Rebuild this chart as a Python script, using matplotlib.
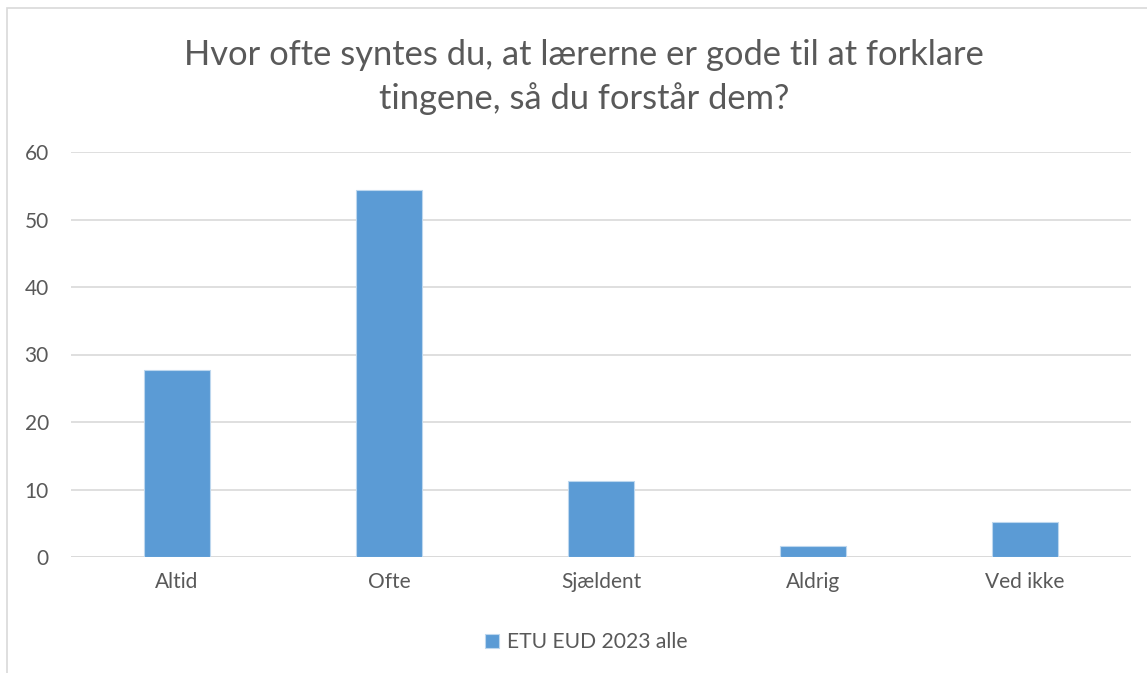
import matplotlib
matplotlib.use("Agg")
import matplotlib.pyplot as plt
from matplotlib.patches import Rectangle

categories = ["Altid", "Ofte", "Sjældent", "Aldrig", "Ved ikke"]
values = [27.7, 54.3, 11.2, 1.7, 5.2]
series_name = "ETU EUD 2023 alle"
title = "Hvor ofte syntes du, at lærerne er gode til at forklare\ntingene, så du forstår dem?"
yticks = [0, 10, 20, 30, 40, 50, 60]

plt.rcParams['font.family'] = ['Lato', 'DejaVu Sans']
text_color = "#595959"
bar_color = "#5B9BD5"
grid_color = "#D9D9D9"

fig = plt.figure(figsize=(11.47, 6.73), dpi=100)
ax = fig.add_axes([71/1147, 1-557/673, (1131-71)/1147, (557-152)/673])

x = list(range(len(categories)))
ax.bar(x, values, width=0.316, color=bar_color, edgecolor="#BDD7EE", linewidth=0.8,
       label=series_name, zorder=3)

ax.set_xlim(-0.5, len(categories) - 0.5)
ax.set_ylim(0, 60)
ax.set_yticks(yticks)
ax.set_xticks(x)
ax.set_xticklabels(categories)
ax.tick_params(axis='both', length=0, labelsize=15, colors=text_color)
ax.tick_params(axis='y', pad=16)
ax.tick_params(axis='x', pad=11)
ax.grid(axis='y', color=grid_color, linewidth=1.2, zorder=0)
for s in ax.spines.values():
    s.set_visible(False)
ax.axhline(0, color=grid_color, linewidth=1.2, zorder=2)

fig.text(584/1147, 1 - 77/673, title, ha='center', va='center', fontsize=24.8,
         color=text_color, linespacing=1.4, multialignment='center')

leg = fig.legend(loc='center', bbox_to_anchor=(0.5 + 13/1147, 1 - 642/673), frameon=False,
                 fontsize=15.2, handlelength=0.65, handleheight=0.65, handletextpad=0.4)
for t in leg.get_texts():
    t.set_color(text_color)

fig.patches.append(Rectangle((7/1147, -0.1), 1.2, 1 - 8/673 + 0.1, transform=fig.transFigure,
                             fill=False, edgecolor="#D9D9D9", linewidth=1.2))

fig.savefig("out.png", dpi=100)
